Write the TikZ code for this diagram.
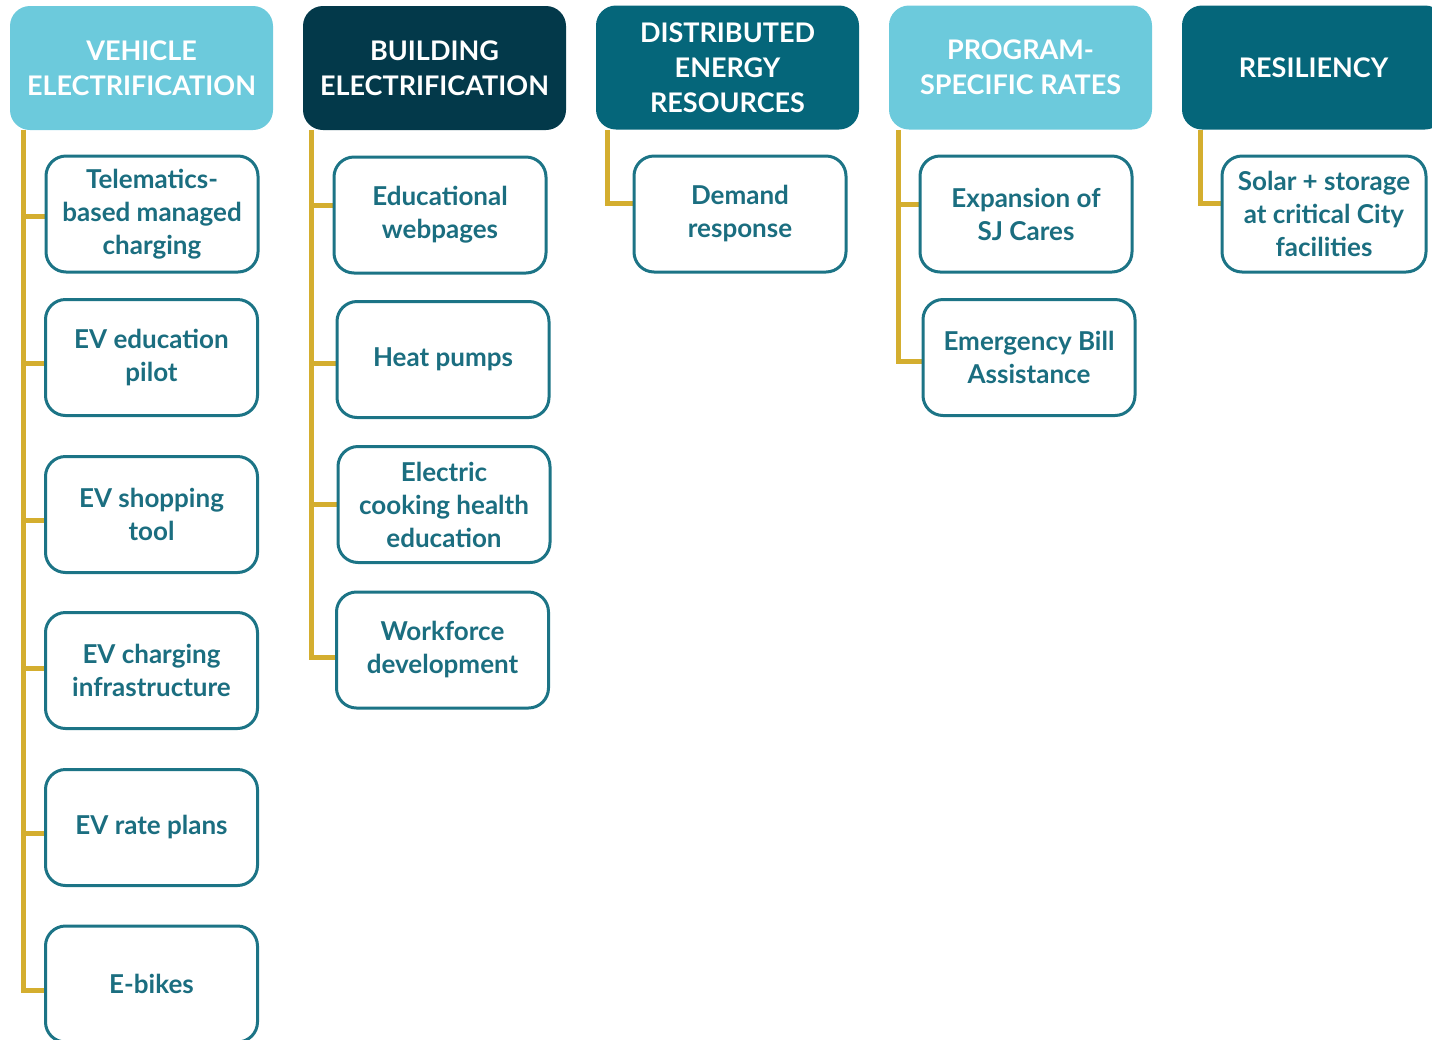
\documentclass[tikz,border=0pt]{standalone}
\usepackage{fontspec}
\setmainfont{Lato}
\usetikzlibrary{backgrounds}

\definecolor{lightcyan}{HTML}{6CCADC}
\definecolor{darkteal}{HTML}{03394A}
\definecolor{midteal}{HTML}{05667A}
\definecolor{gold}{HTML}{D4AE2F}
\definecolor{boxteal}{HTML}{1C7486}
\definecolor{textteal}{HTML}{1B6E80}

\begin{document}
\begin{tikzpicture}[x=0.5pt,y=-0.5pt]

      \clip (0,0) rectangle (1432,1040);

      % headers
      \begin{scope}[every node/.style={rounded corners=10pt,minimum width=131.5pt,minimum height=62pt,
          inner sep=0pt,align=center,text=white,font=\bfseries\fontsize{13.5}{17.5}\selectfont}]
        \node[fill=lightcyan] (veh) at (141.5,68)   {VEHICLE\\ELECTRIFICATION};
        \node[fill=darkteal]  (bld) at (434.5,68)   {BUILDING\\ELECTRIFICATION};
        \node[fill=midteal]   (der) at (727.5,67.5) {DISTRIBUTED\\ENERGY\\RESOURCES};
        \node[fill=lightcyan] (prg) at (1020.5,67.5) {PROGRAM-\\SPECIFIC RATES};
        \node[fill=midteal]   (res) at (1313.5,67.5) {RESILIENCY};
      \end{scope}

      % programs
      \begin{scope}[every node/.style={draw=boxteal,line width=1.5pt,fill=white,rounded corners=10pt,
          minimum width=106pt,minimum height=58pt,inner sep=0pt,align=center,text=textteal,
          font=\bfseries\fontsize{13}{16.5}\selectfont}]
        \node (v1) at (152,214)     {Telematics-\\based managed\\charging};
        \node (v2) at (151.5,357.5) {EV education\\pilot};
        \node (v3) at (151.5,514.5) {EV shopping\\tool};
        \node (v4) at (151.5,670.5) {EV charging\\infrastructure};
        \node (v5) at (151.5,827.5) {EV rate plans};
        \node (v6) at (151.5,984)   {E-bikes};

        \node (b1) at (440,215)     {Educational\\webpages};
        \node (b2) at (443,359.5)   {Heat pumps};
        \node (b3) at (444,504.5)   {Electric\\cooking health\\education};
        \node (b4) at (442.5,650)   {Workforce\\development};

        \node (d1) at (740,214)     {Demand\\response};

        \node (p1) at (1026,214)    {Expansion of\\SJ Cares};
        \node (p2) at (1029,357.5)  {Emergency Bill\\Assistance};

        \node[minimum width=102pt] (r1) at (1324,214) {Solar + storage\\at critical City\\facilities};
      \end{scope}

      % gold connectors
      \coordinate (vt) at (23,130);
      \coordinate (bt) at (311,130);
      \coordinate (dt) at (607,130);
      \coordinate (pt) at (898,130);
      \coordinate (rt) at (1200,130);

      \begin{scope}[on background layer,every path/.style={draw=gold,line width=2.5pt}]
        \foreach \c/\dy in {v1/-1,v2/-3,v3/-3,v4/1,v5/-3,v6/-3}
          \path (vt) |- ([yshift=\dy pt]\c.west);
        \foreach \c/\dy in {b1/5,b2/-2,b3/0,b4/-3.5}
          \path (bt) |- ([yshift=\dy pt]\c.west);
        \path (dt) |- ([yshift=5.5pt]d1.west);
        \path (pt) |- ([yshift=5pt]p1.west);
        \path (pt) |- ([yshift=-2pt]p2.west);
        \path (rt) |- ([yshift=5.5pt]r1.west);
      \end{scope}

    \end{tikzpicture}
\end{document}
